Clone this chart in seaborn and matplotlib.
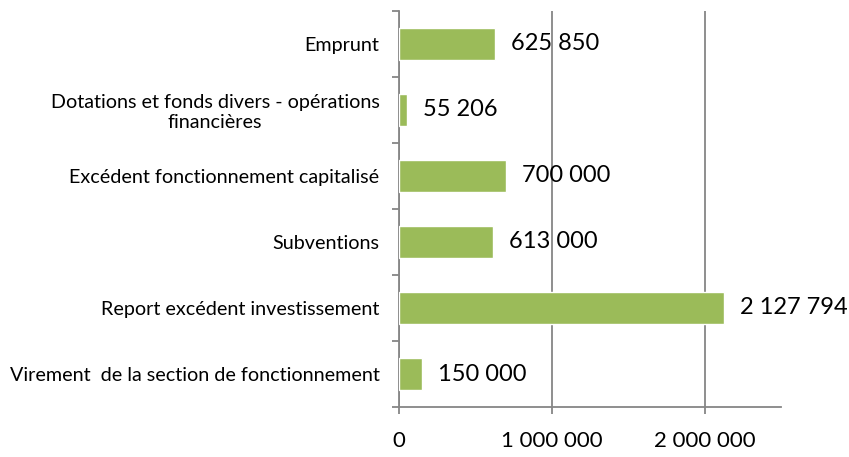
import matplotlib
matplotlib.use("Agg")
import matplotlib.pyplot as plt
import matplotlib.ticker as mticker
import pandas as pd
import seaborn as sns

categories = [
    "Emprunt",
    "Dotations et fonds divers - opérations\nfinancières",
    "Excédent fonctionnement capitalisé",
    "Subventions",
    "Report excédent investissement",
    "Virement  de la section de fonctionnement",
]
values = [625850, 55206, 700000, 613000, 2127794, 150000]
x_ticks = [0, 1000000, 2000000]


def fmt(v):
    return f"{int(v):,}".replace(",", " ")


def main():
    data = pd.DataFrame({"poste": categories, "montant": values})

    sns.set_theme(style="white")
    plt.rcParams["font.family"] = ["Lato", "DejaVu Sans"]

    fig = plt.figure(figsize=(8.49, 4.57), dpi=100)
    ax = fig.add_axes([0.47, 0.1094, 0.45, 0.8666])

    sns.barplot(data=data, x="montant", y="poste", orient="h", color="#9BBB59",
                saturation=1, width=0.49, ax=ax, zorder=3)

    ax.set_xlim(0, 2500000)
    ax.set_ylim(len(categories) - 0.5, -0.5)
    ax.set_xticks(x_ticks)
    ax.xaxis.set_major_formatter(mticker.FuncFormatter(lambda v, p: fmt(v)))
    ax.grid(axis="x", color="#868686", linewidth=1.3, zorder=0)
    ax.set_axisbelow(True)

    for lab in ax.get_yticklabels():
        lab.set_multialignment("center")
    ax.tick_params(axis="y", length=0, pad=14, labelsize=14.2, colors="black")
    ax.set_yticks([i + 0.5 for i in range(-1, len(categories))], minor=True)
    ax.tick_params(axis="y", which="minor", length=5, width=1.3, color="#868686", left=True)
    ax.tick_params(axis="x", length=5, width=1.3, color="#868686", pad=12,
                   labelsize=16, labelcolor="black", bottom=True)

    for s in ["top", "right"]:
        ax.spines[s].set_visible(False)
    for s in ["left", "bottom"]:
        ax.spines[s].set_color("#868686")
        ax.spines[s].set_linewidth(1.3)

    ax.bar_label(ax.containers[0], labels=[fmt(v) for v in values],
                 padding=11.5, fontsize=17, color="black")

    ax.set_xlabel("")
    ax.set_ylabel("")

    fig.savefig("out.png", dpi=100)


if __name__ == "__main__":
    main()
